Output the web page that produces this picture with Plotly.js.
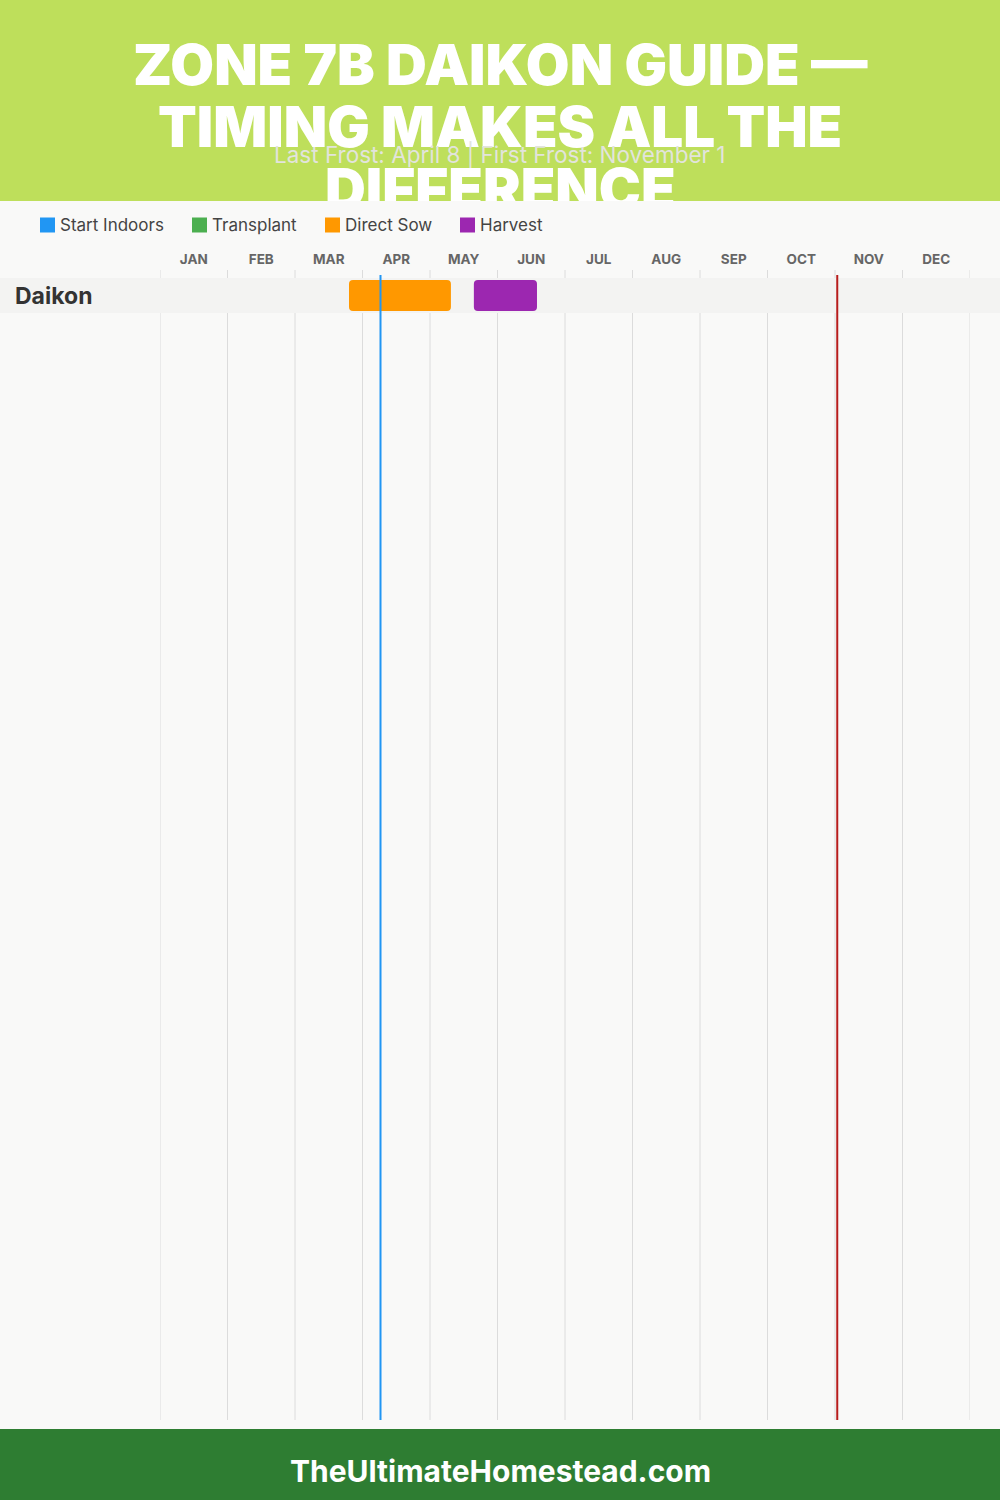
<!DOCTYPE html>
<html>
<head>
<meta charset="utf-8">
<script src="https://cdn.plot.ly/plotly-3.0.1.min.js"></script>
<style>
  html, body { margin: 0; padding: 0; background: #f9f9f8; }
  #wrap { position: relative; width: 1000px; height: 1500px; }
  #chart { width: 1000px; height: 1500px; }
  #clip { position: absolute; left: 0; top: 201px; width: 1000px; height: 13px; background: #f9f9f8; pointer-events: none; }
</style>
</head>
<body>
<div id="wrap">
  <div id="chart"></div>
  <div id="clip"></div>
</div>
<script>
// ---------- DATA ----------
const titleLines = ['ZONE 7B DAIKON GUIDE —', 'TIMING MAKES ALL THE', 'DIFFERENCE'];
const subtitle = 'Last Frost: April 8 | First Frost: November 1';
const footerText = 'TheUltimateHomestead.com';
const months = ['JAN', 'FEB', 'MAR', 'APR', 'MAY', 'JUN', 'JUL', 'AUG', 'SEP', 'OCT', 'NOV', 'DEC'];
const stages = ['Start Indoors', 'Transplant', 'Direct Sow', 'Harvest'];
const crops = ['Daikon'];
// positions in month units (0 = Jan 1, 12 = Dec 31)
const directSowStart = [2.8];
const directSowEnd = [4.31];
const harvestStart = [4.65];
const harvestEnd = [5.585];
const lastFrost = 3 + 8 / 30;    // April 8
const firstFrost = 10 + 1 / 30;  // November 1

// ---------- STYLE ----------
const stageColors = {'Start Indoors': '#2196f3', 'Transplant': '#4caf50', 'Direct Sow': '#ff9800', 'Harvest': '#9c27b0'};
const W = 1000, H = 1500, PT = 270, PB = 1420;
const PH = PB - PT;
const px = x => x / W;
const py = y => (PB - y) / PH;
const rowPx = 35;
const rowTopPx = 278;
const yTop = -0.5 - (rowTopPx - PT) / rowPx;
const yBottom = yTop + PH / rowPx;
const FONT = 'Inter, "Open Sans", sans-serif';

function span(start, end) { return end.map((e, i) => e - start[i]); }

const traces = [
  {
    type: 'bar', orientation: 'h', name: 'Direct Sow',
    y: crops.map((c, i) => i), base: directSowStart, x: span(directSowStart, directSowEnd),
    width: 31 / rowPx, marker: {color: stageColors['Direct Sow'], cornerradius: 4, line: {width: 0}},
    showlegend: false, hoverinfo: 'skip'
  },
  {
    type: 'bar', orientation: 'h', name: 'Harvest',
    y: crops.map((c, i) => i), base: harvestStart, x: span(harvestStart, harvestEnd),
    width: 31 / rowPx, marker: {color: stageColors['Harvest'], cornerradius: 4, line: {width: 0}},
    showlegend: false, hoverinfo: 'skip'
  }
];

const shapes = [];
// header & footer
shapes.push({type: 'rect', xref: 'paper', yref: 'paper', x0: 0, x1: 1, y0: py(0), y1: py(201), fillcolor: '#bedf5b', line: {width: 0}, layer: 'below'});
shapes.push({type: 'rect', xref: 'paper', yref: 'paper', x0: 0, x1: 1, y0: py(1429), y1: py(1500), fillcolor: '#2e7d32', line: {width: 0}, layer: 'below'});
// month gridlines
for (let m = 0; m <= months.length; m++) {
  shapes.push({type: 'line', xref: 'x', yref: 'paper', x0: m, x1: m, y0: 0, y1: 1, line: {color: '#dcdcdc', width: 1}, layer: 'below'});
}
// row bands
crops.forEach((c, i) => {
  shapes.push({type: 'rect', xref: 'paper', yref: 'y', x0: 0, x1: 1, y0: i - 0.5, y1: i + 0.5, fillcolor: '#f3f3f2', line: {width: 0}, layer: 'below'});
});
// frost lines
shapes.push({type: 'line', xref: 'x', yref: 'paper', x0: lastFrost, x1: lastFrost, y0: 0, y1: py(275), line: {color: '#2196f3', width: 2}, layer: 'above'});
shapes.push({type: 'line', xref: 'x', yref: 'paper', x0: firstFrost, x1: firstFrost, y0: 0, y1: py(275), line: {color: '#b71c1c', width: 2}, layer: 'above'});

const annotations = [];
const titleY = [62, 124.5, 187];
titleLines.forEach((t, i) => {
  annotations.push({xref: 'paper', yref: 'paper', x: 0.5, y: py(titleY[i] + 2), xanchor: 'center', yanchor: 'middle', showarrow: false,
    text: t, font: {family: FONT, size: 56.5, color: '#ffffff', weight: 900}});
});
annotations.push({xref: 'paper', yref: 'paper', x: 0.5, y: py(155), xanchor: 'center', yanchor: 'middle', showarrow: false,
  text: subtitle, font: {family: FONT, size: 22.5, color: '#e2e4dc', weight: 400}});
annotations.push({xref: 'paper', yref: 'paper', x: 0.5, y: py(1471), xanchor: 'center', yanchor: 'middle', showarrow: false,
  text: footerText, font: {family: FONT, size: 30, color: '#ffffff', weight: 700}});
// legend
const legendX = [40, 192, 325, 460];
stages.forEach((s, i) => {
  shapes.push({type: 'rect', xref: 'paper', yref: 'paper', x0: px(legendX[i]), x1: px(legendX[i] + 15), y0: py(232.5), y1: py(217.5),
    fillcolor: stageColors[s], line: {width: 0}, layer: 'above'});
  annotations.push({xref: 'paper', yref: 'paper', x: px(legendX[i] + 18), y: py(225), xanchor: 'left', yanchor: 'middle', showarrow: false,
    text: s, font: {family: FONT, size: 17, color: '#444444'}});
});
// crop labels
crops.forEach((c, i) => {
  annotations.push({xref: 'paper', yref: 'y', x: px(13), y: i, xanchor: 'left', yanchor: 'middle', showarrow: false,
    text: c, font: {family: FONT, size: 23, color: '#333333', weight: 700}});
});

const layout = {
  width: W, height: H,
  margin: {l: 0, r: 0, t: PT, b: H - PB, pad: 0},
  paper_bgcolor: '#f9f9f8', plot_bgcolor: 'rgba(0,0,0,0)',
  showlegend: false,
  barmode: 'overlay',
  xaxis: {
    domain: [0.16, 0.97], range: [0, months.length], side: 'top',
    tickvals: months.map((m, i) => i + 0.5), ticktext: months,
    tickfont: {family: FONT, size: 13.5, color: '#666666', weight: 700},
    ticklabelstandoff: 2,
    showgrid: false, zeroline: false, showline: false, ticks: '', ticklen: 0, fixedrange: true
  },
  yaxis: {range: [yBottom, yTop], visible: false, showgrid: false, zeroline: false, fixedrange: true},
  shapes: shapes,
  annotations: annotations
};

Plotly.newPlot('chart', traces, layout, {displayModeBar: false, staticPlot: true});
</script>
</body>
</html>
